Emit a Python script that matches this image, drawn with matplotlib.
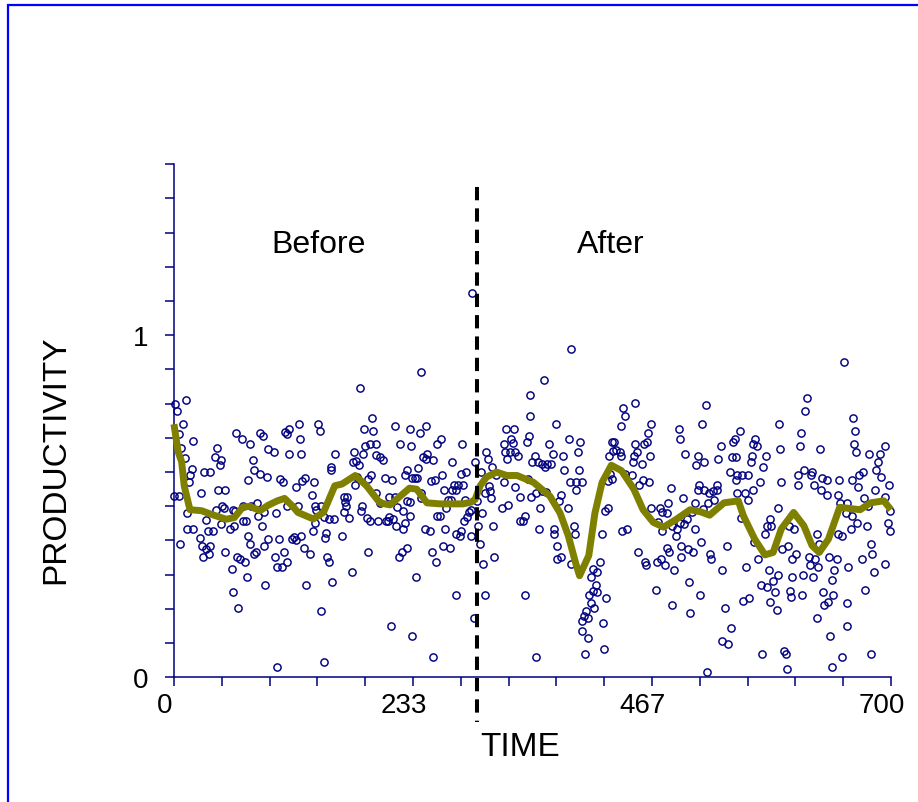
import matplotlib
matplotlib.use("Agg")
import matplotlib.pyplot as plt
import matplotlib.transforms as mtransforms
from matplotlib.patches import Rectangle

plt.rcParams['font.family'] = ['Liberation Sans', 'DejaVu Sans']

# (time, productivity), before the change point
before_points = [
    (1, 0.80), (3, 0.78), (12, 0.81), (9, 0.74), (5, 0.71), (7, 0.67), (19, 0.69), (11, 0.64),
    (0, 0.53), (5, 0.53), (18, 0.61), (16, 0.59), (15, 0.57), (26, 0.54), (13, 0.48), (13, 0.435),
    (19, 0.435), (6, 0.39), (29, 0.60), (35, 0.60), (42, 0.67), (40, 0.645), (46, 0.636), (45, 0.62),
    (43, 0.547), (50, 0.547), (31, 0.46), (33, 0.427), (38, 0.427), (25, 0.406), (27, 0.385), (28, 0.352),
    (31, 0.375), (35, 0.383), (34, 0.36), (41, 0.489), (47, 0.50), (49, 0.494), (46, 0.448), (50, 0.367),
    (55, 0.435), (58, 0.49), (60, 0.487), (59, 0.443), (67, 0.458), (70, 0.458), (61, 0.713), (66, 0.696),
    (74, 0.683), (77, 0.636), (78, 0.607), (72, 0.577), (84, 0.593), (91, 0.585), (67, 0.50), (75, 0.50),
    (81, 0.511), (82, 0.472), (88, 0.482), (86, 0.443), (72, 0.414), (74, 0.39), (92, 0.404), (88, 0.385),
    (80, 0.367), (78, 0.36), (62, 0.352), (64, 0.346), (69, 0.338), (57, 0.316), (71, 0.292), (58, 0.248),
    (63, 0.203), (89, 0.27), (84, 0.713), (87, 0.706), (92, 0.667), (98, 0.66), (108, 0.718), (112, 0.727),
    (110, 0.711), (112, 0.652), (104, 0.58), (106, 0.572), (100, 0.48), (110, 0.50), (103, 0.404), (115, 0.404),
    (99, 0.352), (107, 0.367), (101, 0.323), (105, 0.323), (110, 0.336), (101, 0.031),
    (122, 0.742), (123, 0.696), (124.4, 0.652), (140.7, 0.742), (142.6, 0.72), (119.5, 0.555), (125, 0.574),
    (127.6, 0.584), (136.4, 0.57), (134.8, 0.533), (121.1, 0.501), (138, 0.501), (139, 0.489), (143.9, 0.501),
    (146.5, 0.469), (151, 0.464), (156, 0.464), (135.8, 0.428), (137.4, 0.45), (117.2, 0.409), (119.5, 0.40),
    (123.7, 0.414), (148.8, 0.422), (147.8, 0.406), (127, 0.377), (133.2, 0.36), (149.8, 0.352), (151.7, 0.338),
    (128.9, 0.271), (154.7, 0.278), (143.3, 0.195), (146.5, 0.046), (153.7, 0.616), (153, 0.607), (156.9, 0.652),
    (164.4, 0.414), (166, 0.526), (169.3, 0.526), (166.7, 0.513), (168.3, 0.501), (166, 0.482), (170.9, 0.465),
    (173.9, 0.309), (181.4, 0.847), (175.8, 0.659), (174.8, 0.63), (177.4, 0.633), (180.4, 0.622), (177.1, 0.562),
    (179, 0.587), (184.6, 0.652), (186.2, 0.675), (191.1, 0.682), (197.6, 0.682), (192.7, 0.592), (189.5, 0.579),
    (185.6, 0.727), (193.7, 0.757), (194.7, 0.719), (183.6, 0.501), (183, 0.487), (188.5, 0.467), (191.1, 0.458),
    (199.3, 0.458), (197, 0.54), (197.6, 0.65), (200.9, 0.643), (204.1, 0.636), (205.8, 0.584), (212.9, 0.577),
    (189.5, 0.367), (200.9, 0.509), (210, 0.526), (215.9, 0.734), (221.1, 0.682), (230.9, 0.725), (231.2, 0.675),
    (227.9, 0.607), (225.3, 0.591), (232.5, 0.584), (215.5, 0.526), (218.1, 0.499), (223.7, 0.487), (227.9, 0.516),
    (230.2, 0.513), (230.9, 0.472), (226, 0.45), (223.7, 0.435), (210, 0.47), (209, 0.458), (213.9, 0.464),
    (217.1, 0.443), (207.4, 0.456), (227.2, 0.377), (222.3, 0.367), (220.1, 0.352), (211.6, 0.151), (232.5, 0.12),
    (240.9, 0.893), (291.4, 1.125), (240, 0.714), (245.8, 0.735), (260.5, 0.698), (257.2, 0.682), (281.6, 0.683),
    (243.2, 0.645), (247.4, 0.652), (246.5, 0.638), (253, 0.636), (238.3, 0.613), (235.1, 0.584), (237.7, 0.584),
    (250.7, 0.573), (254.6, 0.577), (261.8, 0.592), (271.5, 0.63), (280, 0.594), (285.5, 0.601), (273.5, 0.563),
    (277.4, 0.563), (282.3, 0.563), (263.7, 0.548), (271.5, 0.548), (275.8, 0.548), (241.6, 0.54), (241.6, 0.523),
    (267.6, 0.519), (270.2, 0.519), (284.6, 0.519), (266, 0.494), (257.2, 0.472), (259.5, 0.472), (244.8, 0.435),
    (249.7, 0.428), (264.4, 0.435), (275.8, 0.419), (279, 0.412), (280, 0.428), (283.3, 0.458), (286.5, 0.47),
    (288.1, 0.482), (290.4, 0.489), (289.8, 0.414), (262.7, 0.385), (269.3, 0.377), (252, 0.367), (256.2, 0.338),
    (236.7, 0.294), (275.1, 0.241), (253, 0.06), (293.7, 0.63), (292.7, 0.173),
]

# (time, productivity) after the change point
after_points = [
    (305.1, 0.659), (306.7, 0.638), (310.6, 0.616), (300.2, 0.599), (307.4, 0.558), (308.3, 0.545), (310, 0.525),
    (303.4, 0.54), (296.3, 0.516), (300.8, 0.479), (296.9, 0.443), (298.6, 0.389), (301.8, 0.331), (312.6, 0.353),
    (311.9, 0.443), (303.4, 0.24), (314.2, 0.591), (322, 0.572), (324.6, 0.727), (332.1, 0.727), (322, 0.682),
    (329.5, 0.696), (331.1, 0.686), (323.6, 0.659), (327.9, 0.659), (333.4, 0.659), (336, 0.648), (325.6, 0.638),
    (333.4, 0.555), (338, 0.526), (320.7, 0.496), (326.6, 0.503), (337.6, 0.458), (340.9, 0.458), (342.5, 0.472),
    (342.5, 0.241), (348, 0.825), (347.4, 0.764), (346.4, 0.706), (345.1, 0.688), (350, 0.63), (349, 0.526),
    (352.9, 0.646), (387.4, 0.959), (361.4, 0.87), (372.8, 0.742), (366, 0.683), (369.6, 0.652), (380, 0.646),
    (385.8, 0.696), (396.2, 0.689), (394.6, 0.659), (355.5, 0.63), (359.4, 0.623), (362.7, 0.616), (364.7, 0.623),
    (368.6, 0.623), (380.9, 0.607), (395.6, 0.607), (386.4, 0.572), (393, 0.572), (397.9, 0.572), (392.3, 0.548),
    (353.9, 0.54), (359.4, 0.545), (363.7, 0.543), (378.3, 0.533), (375.7, 0.516), (357.8, 0.496), (384.8, 0.496),
    (345.8, 0.579), (356.5, 0.435), (371.2, 0.435), (371.2, 0.419), (390.7, 0.443), (392, 0.419), (374.4, 0.383),
    (377.7, 0.353), (374.4, 0.346), (387.4, 0.331), (418, 0.419), (415.8, 0.338), (409.3, 0.316), (413.5, 0.307),
    (407.6, 0.292), (411.9, 0.27), (409.3, 0.253), (413.2, 0.248), (405.4, 0.241), (421.6, 0.233), (406.7, 0.217),
    (410, 0.203), (402.7, 0.195), (400.5, 0.18), (404.4, 0.172), (398.8, 0.166), (398.5, 0.136), (419, 0.158),
    (404.7, 0.114), (420, 0.083), (401.1, 0.068), (353.9, 0.06), (421.3, 0.487), (423.3, 0.496), (424.9, 0.646),
    (427.2, 0.688), (429.8, 0.688), (432, 0.665), (428.8, 0.662), (435.3, 0.659), (436.9, 0.646), (425.6, 0.594),
    (427.2, 0.581), (423.9, 0.574), (438.6, 0.787), (440.8, 0.764), (436, 0.735), (449.9, 0.801), (450.6, 0.682),
    (451.6, 0.659), (449.3, 0.646), (448.3, 0.63), (456.5, 0.623), (461.4, 0.688), (463, 0.714), (465.6, 0.74),
    (459.4, 0.682), (464.4, 0.646), (447.4, 0.592), (440.2, 0.594), (454.2, 0.563), (458.1, 0.577), (463.7, 0.572),
    (466.2, 0.495), (437.6, 0.428), (442.8, 0.435), (452.6, 0.367), (459.8, 0.338), (460.8, 0.328),
    (471.1, 0.255), (474.4, 0.496), (476.7, 0.482), (480.9, 0.479), (482.5, 0.509), (484.8, 0.554), (472.7, 0.455),
    (476.7, 0.428), (485.8, 0.443), (490.7, 0.433), (489.7, 0.412), (494, 0.45), (498.1, 0.448), (497.2, 0.525),
    (500.5, 0.464), (505.3, 0.482), (508.6, 0.511), (508.6, 0.435), (480.9, 0.377), (483.5, 0.367), (495.5, 0.383),
    (494.9, 0.353), (502, 0.375), (506.9, 0.367), (514.4, 0.397), (476, 0.346), (472.1, 0.336), (479.3, 0.329),
    (488.4, 0.315), (502.7, 0.278), (513.4, 0.241), (486.4, 0.211), (503.7, 0.188), (492.9, 0.727), (493.9, 0.696),
    (498.8, 0.652), (511.2, 0.646), (509.6, 0.622), (517.7, 0.63), (515.7, 0.742), (519.9, 0.796), (512.8, 0.563),
    (511.8, 0.547), (517.7, 0.548), (522.6, 0.54), (526.5, 0.545), (529.8, 0.563), (529.8, 0.548), (521.6, 0.509),
    (527.4, 0.518), (516.7, 0.492), (523.2, 0.36), (524.8, 0.346), (534.6, 0.315), (539.8, 0.383), (537.9, 0.203),
    (543.7, 0.143), (535.3, 0.106), (540.5, 0.097), (520.9, 0.015), (534, 0.675), (530.7, 0.638), (542.8, 0.601),
    (544.4, 0.645), (548.3, 0.645), (546.3, 0.688), (547.3, 0.696), (552.9, 0.719), (550.2, 0.591), (554.8, 0.592),
    (560.7, 0.592), (548.3, 0.576), (550.2, 0.54), (557.4, 0.54), (560, 0.518), (564.9, 0.548), (572.1, 0.57),
    (575.3, 0.615), (578, 0.646), (564, 0.646), (563.3, 0.63), (567.2, 0.696), (568.8, 0.675), (565.6, 0.682),
    (553.5, 0.465), (558.1, 0.323), (555.8, 0.224), (561.6, 0.232), (569.8, 0.346), (566.5, 0.397), (576.9, 0.419),
    (578.6, 0.443), (581.8, 0.464), (582.8, 0.443), (580.9, 0.315), (573, 0.271), (578.6, 0.263), (581.8, 0.219),
    (573.7, 0.068),
    (589.3, 0.30), (585.1, 0.282), (586.7, 0.248), (588.3, 0.197), (591, 0.742), (591.9, 0.667), (592.5, 0.57),
    (590, 0.496), (599.1, 0.383), (593.9, 0.375), (603.6, 0.346), (606.9, 0.36), (603.2, 0.292), (601.3, 0.253),
    (602, 0.234), (612.8, 0.24), (614.4, 0.30), (595.8, 0.078), (597.1, 0.068), (598.1, 0.024), (611.8, 0.713),
    (611.1, 0.675), (616, 0.779), (617.9, 0.817), (609.6, 0.592), (609, 0.562), (615.4, 0.607), (622.5, 0.599),
    (621.5, 0.591), (624.8, 0.563), (630.7, 0.667), (632.3, 0.584), (637.2, 0.577), (631.7, 0.547), (637.8, 0.533),
    (605.6, 0.435), (600.4, 0.441), (628, 0.419), (630, 0.389), (620, 0.352), (625.8, 0.346), (620.9, 0.329),
    (629, 0.323), (624.1, 0.292), (633.9, 0.248), (638.1, 0.219), (634.9, 0.211), (643.7, 0.24), (627.4, 0.172),
    (640.5, 0.12), (642.1, 0.031), (651.8, 0.06), (657, 0.151), (657.6, 0.217), (642.1, 0.284), (644.7, 0.315),
    (647, 0.346), (639.8, 0.352), (658.4, 0.323), (648, 0.419), (652.5, 0.412), (649.6, 0.577), (648, 0.533),
    (650.3, 0.511), (657, 0.511), (655.7, 0.479), (661.8, 0.472), (660.8, 0.435), (653.8, 0.922), (663.2, 0.757),
    (664.9, 0.719), (663.6, 0.682), (665.9, 0.659), (661.6, 0.577), (668.1, 0.555), (668.8, 0.592), (673, 0.599),
    (673.9, 0.525), (666.5, 0.45), (676.2, 0.443), (681, 0.389), (681.7, 0.36), (672, 0.346), (683.8, 0.309),
    (674.7, 0.255), (680.5, 0.068), (679, 0.652), (689.5, 0.652), (694.2, 0.675), (686.9, 0.63), (685.8, 0.607),
    (690, 0.587), (697.8, 0.563), (684.8, 0.548), (693.9, 0.526), (677.9, 0.501), (699.1, 0.487), (696.8, 0.45),
    (699.1, 0.428), (694.4, 0.331),
]

# smoothed productivity curve
trend_time = [0, 4, 7.5, 10, 15.6, 27, 36, 51, 59, 67, 74, 84, 92, 101, 108, 116, 121, 136, 146, 157, 164,
              177, 188, 201, 211, 230, 237, 247, 260, 282, 290, 294, 299, 305, 315, 325, 335, 351, 367, 377,
              385, 392, 396, 405, 411, 418, 427, 437, 449, 458, 468, 478, 491, 504, 514, 523, 537, 551, 556,
              567, 577, 585, 593, 605, 615, 623, 630, 639, 650, 670, 680, 693, 700]
trend_value = [0.74, 0.66, 0.63, 0.56, 0.49, 0.487, 0.477, 0.462, 0.467, 0.497, 0.50, 0.487, 0.503, 0.516,
               0.523, 0.50, 0.482, 0.463, 0.482, 0.56, 0.565, 0.59, 0.56, 0.51, 0.504, 0.553, 0.55, 0.51,
               0.507, 0.507, 0.512, 0.52, 0.56, 0.585, 0.60, 0.59, 0.59, 0.57, 0.53, 0.48, 0.414, 0.336,
               0.297, 0.356, 0.48, 0.57, 0.62, 0.604, 0.55, 0.49, 0.453, 0.439, 0.463, 0.49, 0.484, 0.474,
               0.51, 0.516, 0.472, 0.404, 0.358, 0.365, 0.434, 0.482, 0.443, 0.385, 0.365, 0.404, 0.497,
               0.49, 0.51, 0.516, 0.49]

change_point = 296
x_ticks = [i * 700 / 15 for i in range(16)]
x_labels = ['0', '', '', '', '', '233', '', '', '', '', '467', '', '', '', '', '700']
y_ticks = [i / 10 for i in range(16)]
y_labels = ['0', '', '', '', '', '', '', '', '', '', '1', '', '', '', '', '']

navy = '#000080'

fig = plt.figure(figsize=(9.18, 8.03), dpi=100)
ax = fig.add_axes([0.1895, 0.1553, 0.781, 0.6389])

bt, bv = zip(*before_points)
at, av = zip(*after_points)
ax.plot(bt, bv, 'o', mfc='none', mec=navy, ms=5.2, mew=1.05, clip_on=False, zorder=3)
ax.plot(at, av, 'o', mfc='none', mec=navy, ms=5.2, mew=1.05, clip_on=False, zorder=3)
ax.plot(trend_time, trend_value, color='#808000', lw=5, solid_joinstyle='round',
        solid_capstyle='butt', zorder=4, clip_on=False)
ax.plot([change_point, change_point], [1.434, -0.131], color='black', lw=2.9,
        dashes=(3.3, 2.0), clip_on=False, zorder=5)

ax.text(141.6, 1.267, 'Before', fontsize=23, ha='center', va='center')
ax.text(426, 1.267, 'After', fontsize=23, ha='center', va='center')

ax.set_xlim(0, 700)
ax.set_ylim(0, 1.5)
ax.set_xticks(x_ticks)
ax.set_xticklabels(x_labels)
ax.set_yticks(y_ticks)
ax.set_yticklabels(y_labels)

for s in ['top', 'right']:
    ax.spines[s].set_visible(False)
for s in ['left', 'bottom']:
    ax.spines[s].set_color(navy)
    ax.spines[s].set_linewidth(1.1)

ax.tick_params(axis='both', colors=navy, labelcolor='black', labelsize=20,
               direction='out', length=6.5, width=1.1)
ax.tick_params(axis='y', pad=12)
ax.tick_params(axis='x', pad=4)

shift = mtransforms.ScaledTranslation(-0.09, 0, fig.dpi_scale_trans)
for lab in ax.get_xticklabels():
    lab.set_transform(lab.get_transform() + shift)

ax.set_xlabel('TIME', fontsize=24, ha='left')
ax.xaxis.set_label_coords(0.4268, -0.104)
ax.set_ylabel('PRODUCTIVITY', fontsize=24)
ax.yaxis.set_label_coords(-0.143, 0.4255)

fig.patches.append(Rectangle((0.0083, -0.2), 1.5, 1.1925, transform=fig.transFigure,
                             fill=False, edgecolor='#0000ff', lw=1.6))

fig.savefig('out.png', dpi=100)
